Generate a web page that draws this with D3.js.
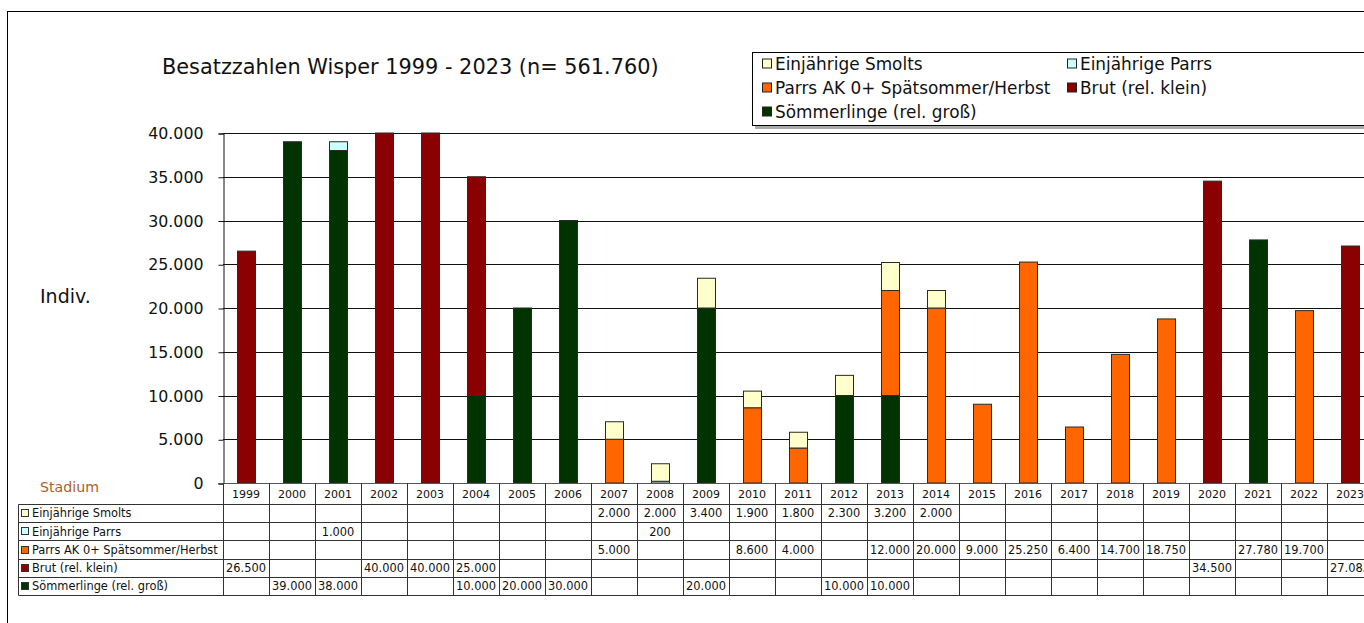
<!DOCTYPE html>
<html>
<head>
<meta charset="utf-8">
<script src="https://cdn.jsdelivr.net/npm/d3@7"></script>
<style>
  html, body { margin: 0; padding: 0; background: #fff; overflow: hidden; }
  svg { display: block; font-family: "DejaVu Sans", Verdana, sans-serif; }
</style>
</head>
<body>
<svg id="chart" width="1364" height="623"></svg>
<script>
// ---------------- data ----------------
const years = ["1999","2000","2001","2002","2003","2004","2005","2006","2007","2008","2009","2010",
               "2011","2012","2013","2014","2015","2016","2017","2018","2019","2020","2021","2022","2023"];

const seriesNames = ["Einjährige Smolts", "Einjährige Parrs", "Parrs AK 0+ Spätsommer/Herbst",
                     "Brut (rel. klein)", "Sömmerlinge (rel. groß)"];

//                1999  2000  2001  2002  2003  2004  2005  2006  2007  2008  2009  2010  2011  2012  2013  2014  2015  2016  2017  2018  2019  2020  2021  2022  2023
const smolts    = [null, null, null, null, null, null, null, null, 2000, 2000, 3400, 1900, 1800, 2300, 3200, 2000, null, null, null, null, null, null, null, null, null];
const einjParrs = [null, null, 1000, null, null, null, null, null, null, 200,  null, null, null, null, null, null, null, null, null, null, null, null, null, null, null];
const parrsAK   = [null, null, null, null, null, null, null, null, 5000, null, null, 8600, 4000, null, 12000,20000,9000, 25250,6400, 14700,18750,null, 27780,19700,null];
const brut      = [26500,null, null, 40000,40000,25000,null, null, null, null, null, null, null, null, null, null, null, null, null, null, null, 34500,null, null, 27083];
const soemm     = [null, 39000,38000,null, null, 10000,20000,30000,null, null, 20000,null, null, 10000,10000,null, null, null, null, null, null, null, null, null, null];

const yTicks = [0, 5000, 10000, 15000, 20000, 25000, 30000, 35000, 40000];

const colours = {
  "Einjährige Smolts": "#FFFFCC",
  "Einjährige Parrs": "#CCFFFF",
  "Parrs AK 0+ Spätsommer/Herbst": "#FF6600",
  "Brut (rel. klein)": "#8B0000",
  "Sömmerlinge (rel. groß)": "#003300"
};
// In the original chart the 2021 bar is coloured as Sömmerlinge although the table lists it as Parrs AK 0+
const barColourOverride = { "2021": { "Parrs AK 0+ Spätsommer/Herbst": "Sömmerlinge (rel. groß)" } };

const seriesValues = {
  "Einjährige Smolts": smolts,
  "Einjährige Parrs": einjParrs,
  "Parrs AK 0+ Spätsommer/Herbst": parrsAK,
  "Brut (rel. klein)": brut,
  "Sömmerlinge (rel. groß)": soemm
};

// ---------------- setup ----------------
const svg = d3.select("#chart");
const deLocale = d3.formatLocale({ decimal: ",", thousands: ".", grouping: [3], currency: ["", " €"] });
const fmt = deLocale.format(",");

const plotLeft = 223, plotTop = 133, plotBottom = 483, catW = 46;
const x = d3.scaleBand().domain(years).range([plotLeft, plotLeft + catW * years.length]).padding(0);
const y = d3.scaleLinear().domain([0, 40000]).range([plotBottom, plotTop]);
const plotRight = x.range()[1];

// outer frame
svg.append("rect").attr("x", 7.5).attr("y", 11.5).attr("width", 1400).attr("height", 700)
  .attr("fill", "#fff").attr("stroke", "#000").attr("stroke-width", 1);

// title
svg.append("text").attr("x", 162).attr("y", 74).attr("font-size", "20.85px").attr("fill", "#111")
  .text("Besatzzahlen Wisper 1999 - 2023 (n= 561.760)");

// y label
svg.append("text").attr("x", 40).attr("y", 303).attr("font-size", "19px").attr("fill", "#111").text("Indiv.");

// gridlines
svg.append("g").selectAll("line").data(yTicks.filter(d => d > 0)).join("line")
  .attr("x1", plotLeft).attr("x2", plotRight)
  .attr("y1", d => Math.round(y(d)) + 0.5).attr("y2", d => Math.round(y(d)) + 0.5)
  .attr("stroke", "#111").attr("stroke-width", 1);

// stacked bars (bottom -> top)
const stackOrder = ["Sömmerlinge (rel. groß)", "Brut (rel. klein)", "Parrs AK 0+ Spätsommer/Herbst",
                    "Einjährige Parrs", "Einjährige Smolts"];
const rows = years.map((yr, i) => {
  const r = { year: yr };
  stackOrder.forEach(k => r[k] = seriesValues[k][i] || 0);
  return r;
});
const stacked = d3.stack().keys(stackOrder)(rows);
const barW = 18;
const barG = svg.append("g");
stacked.forEach(layer => {
  barG.selectAll(null).data(layer.filter(d => d[1] - d[0] > 0)).join("rect")
    .attr("x", d => Math.round(x(d.data.year) + (x.bandwidth() - barW) / 2) + 0.5)
    .attr("y", d => y(d[1]))
    .attr("width", barW)
    .attr("height", d => y(d[0]) - y(d[1]))
    .attr("fill", d => {
      const o = barColourOverride[d.data.year];
      const k = (o && o[layer.key]) ? o[layer.key] : layer.key;
      return colours[k];
    })
    .attr("stroke", "#2a2a2a").attr("stroke-width", 1);
});

// y axis
const yAxis = d3.axisLeft(y).tickValues(yTicks).tickFormat(fmt).tickSize(5).tickPadding(15);
const yG = svg.append("g").attr("transform", `translate(${plotLeft + 0.5},0.5)`).call(yAxis);
yG.select(".domain").attr("stroke", "#111");
yG.selectAll(".tick line").attr("stroke", "#111");
yG.selectAll(".tick text").attr("font-size", "15.8px").attr("fill", "#111")
  .attr("font-family", "DejaVu Sans, Verdana, sans-serif");

// x axis baseline
svg.append("line").attr("x1", plotLeft - 5).attr("x2", plotRight).attr("y1", plotBottom + 0.5).attr("y2", plotBottom + 0.5)
  .attr("stroke", "#555").attr("stroke-width", 1);

// ---------------- data table ----------------
const tableLeft = 18, headerBottom = 504, tableBottom = 595;
const rowH = (tableBottom - headerBottom) / seriesNames.length;
const tG = svg.append("g");

// year headers
tG.selectAll("text.year").data(years).join("text")
  .attr("class", "year")
  .attr("x", d => x(d) + x.bandwidth() / 2).attr("y", 498)
  .attr("text-anchor", "middle").attr("font-size", "11px").attr("fill", "#111").text(d => d);

// horizontal lines
d3.range(seriesNames.length + 1).forEach(i => {
  const yy = Math.round(headerBottom + i * rowH) + 0.5;
  tG.append("line").attr("x1", tableLeft + 0.5).attr("x2", plotRight).attr("y1", yy).attr("y2", yy)
    .attr("stroke", "#333").attr("stroke-width", 1);
});
// vertical lines
const bounds = years.map(d => x(d)).concat([plotRight]);
bounds.forEach(bx => {
  tG.append("line").attr("x1", Math.round(bx) + 0.5).attr("x2", Math.round(bx) + 0.5)
    .attr("y1", plotBottom).attr("y2", tableBottom + 0.5).attr("stroke", "#333").attr("stroke-width", 1);
});
tG.append("line").attr("x1", tableLeft + 0.5).attr("x2", tableLeft + 0.5)
  .attr("y1", headerBottom + 0.5).attr("y2", tableBottom + 0.5).attr("stroke", "#333");

// row labels and values
seriesNames.forEach((name, i) => {
  const cy = headerBottom + i * rowH + rowH / 2;
  tG.append("rect").attr("x", 21.5).attr("y", Math.round(cy - 4) + 0.5).attr("width", 7).attr("height", 7)
    .attr("fill", colours[name]).attr("stroke", "#333").attr("stroke-width", 1);
  tG.append("text").attr("x", 32).attr("y", cy + 4.3).attr("font-size", "11.4px").attr("fill", "#111").text(name);
  tG.selectAll(null).data(years.map((yr, j) => ({ yr, v: seriesValues[name][j] })).filter(d => d.v != null))
    .join("text")
    .attr("x", d => x(d.yr) + x.bandwidth() / 2).attr("y", cy + 4.3)
    .attr("text-anchor", "middle").attr("font-size", "11.4px").attr("fill", "#111")
    .text(d => fmt(d.v));
});

// "Stadium"
svg.append("text").attr("x", 40).attr("y", 492).attr("font-size", "14.2px").attr("fill", "#B0602A").text("Stadium");

// ---------------- legend ----------------
const lg = svg.append("g");
lg.append("rect").attr("x", 755).attr("y", 54).attr("width", 620).attr("height", 75).attr("fill", "#aaa");
lg.append("rect").attr("x", 752.5).attr("y", 52.5).attr("width", 620).attr("height", 73)
  .attr("fill", "#fff").attr("stroke", "#000").attr("stroke-width", 1);
const legendItems = [
  { name: "Einjährige Smolts", col: 0, row: 0 },
  { name: "Einjährige Parrs", col: 1, row: 0 },
  { name: "Parrs AK 0+ Spätsommer/Herbst", col: 0, row: 1 },
  { name: "Brut (rel. klein)", col: 1, row: 1 },
  { name: "Sömmerlinge (rel. groß)", col: 0, row: 2 }
];
const colX = [762, 1067];
legendItems.forEach(it => {
  const base = 69.5 + it.row * 24;
  lg.append("rect").attr("x", colX[it.col] + 0.5).attr("y", base - 10.5).attr("width", 9).attr("height", 9)
    .attr("fill", colours[it.name]).attr("stroke", "#222").attr("stroke-width", 1);
  lg.append("text").attr("x", colX[it.col] + 13).attr("y", base).attr("font-size", "16.9px").attr("fill", "#111")
    .text(it.name);
});
</script>
</body>
</html>
